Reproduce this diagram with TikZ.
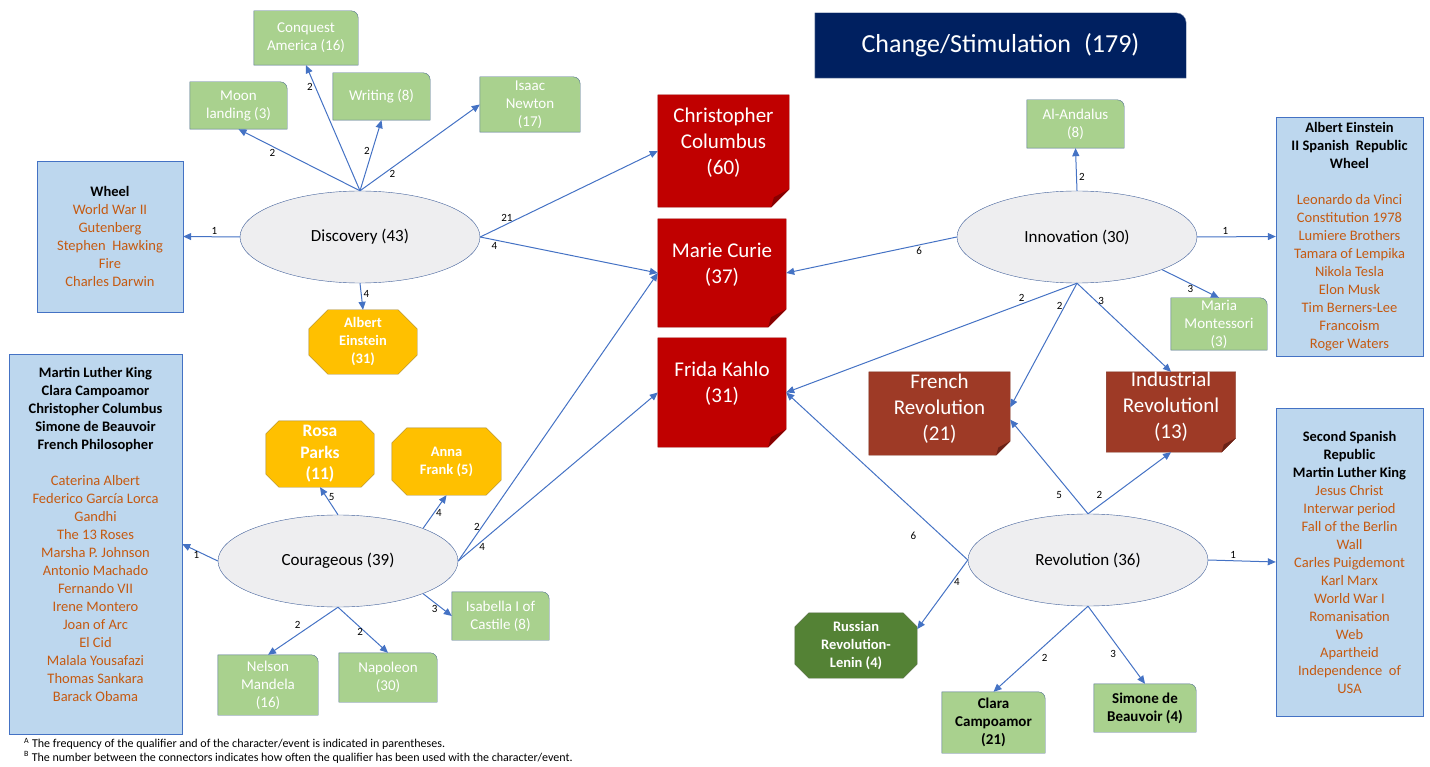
\documentclass[tikz,border=0pt]{standalone}
\usepackage{fontspec}
\setmainfont{Carlito}
\usetikzlibrary{positioning,shapes.geometric,arrows.meta,backgrounds,calc}

\definecolor{linkblue}{HTML}{4472C4}
\definecolor{ovalfill}{HTML}{EEEEF0}
\definecolor{ovaledge}{HTML}{41609A}
\definecolor{listfill}{HTML}{BDD7EE}
\definecolor{listedge}{HTML}{4472C4}
\definecolor{listtext}{HTML}{C55A11}
\definecolor{leaffill}{HTML}{A9D18E}
\definecolor{leafedge}{HTML}{4F6F8F}
\definecolor{charred}{HTML}{C00000}
\definecolor{foldred}{HTML}{860000}
\definecolor{eventbrown}{HTML}{9E3A26}
\definecolor{foldbrown}{HTML}{6A2217}
\definecolor{octyellow}{HTML}{FFC000}
\definecolor{octedge}{HTML}{8C7A45}
\definecolor{octgreen}{HTML}{548235}
\definecolor{titleblue}{HTML}{002060}

\newcommand{\listhead}[1]{{\color{black}\bfseries #1}}

\tikzset{
  qual/.style={ellipse, draw=ovaledge, fill=ovalfill, minimum width=240, minimum height=92,
    inner sep=0pt, font=\fontsize{17}{20}\selectfont},
  namelist/.style={draw=listedge, fill=listfill, text=listtext, align=center, inner sep=0pt,
    font=\fontsize{14.5}{18}\selectfont},
  leaf/.style={align=center, text=white, inner sep=0pt, font=\fontsize{15}{18}\selectfont},
  leafbox/.style={draw=leafedge, fill=leaffill},
  person/.style={align=center, text=white, inner sep=0pt, font=\fontsize{21}{26}\selectfont},
  octa/.style={align=center, text=white, inner sep=0pt, font=\bfseries\fontsize{14.5}{18}\selectfont},
  link/.style={draw=linkblue, line width=1pt, -{Triangle[length=8pt,width=7pt]}},
  num/.style={font=\fontsize{11}{12}\selectfont, inner sep=2pt}
}

\begin{document}
\begin{tikzpicture}[x=1pt,y=-1pt]
\useasboundingbox (0,0) rectangle (1430,767);

\node[text=white, minimum width=371, minimum height=65, inner sep=0pt,
  font=\fontsize{26}{30}\selectfont] (title) at (1000.5,45.5) {Change/Stimulation\enspace(179)};

% qualifiers
\node[qual] (disc) at (360,237) {Discovery (43)};
\node[qual] (cour) at (338,561) {Courageous (39)};
\node[qual] (innov) at (1077,237) {Innovation (30)};
\node[qual] (revol) at (1088,560) {Revolution (36)};

% characters and events in the middle
\node[person, minimum width=131, minimum height=112] (columbus) at (723.5,151) {Christopher\\Columbus\\(60)\\[-6pt]\mbox{}};
\node[person, minimum width=128, minimum height=108] (curie) at (722,273) {Marie Curie\\(37)\\[-6pt]\mbox{}};
\node[person, minimum width=128, minimum height=109] (frida) at (722,392.5) {Frida Kahlo\\(31)\\[-6pt]\mbox{}};
\node[person, minimum width=141, minimum height=83] (frenchrev) at (939.5,413.5) {French\\Revolution\\(21)\\[-13pt]\mbox{}};
\node[person, minimum width=129, minimum height=80] (indusrev) at (1171,412) {Industrial\\Revolutionl\\(13)\\[-13pt]\mbox{}};

% octagons
\node[octa, minimum width=108, minimum height=64] (einstein) at (363,342) {Albert\\Einstein\\(31)};
\node[octa, minimum width=108, minimum height=66, font=\bfseries\fontsize{17.5}{21.5}\selectfont] (rosa) at (320,454) {Rosa\\Parks\\(11)};
\node[octa, minimum width=109, minimum height=67] (anna) at (446.5,461.5) {Anna\\Frank (5)};
\node[octa, minimum width=122, minimum height=65] (lenin) at (856,645.5) {Russian\\Revolution-\\Lenin (4)};

% green boxes
\node[leaf, minimum width=97, minimum height=47] (moon) at (238.5,105.5) {Moon\\landing (3)};
\node[leaf, minimum width=104, minimum height=54] (conquest) at (306,38) {Conquest\\America (16)};
\node[leaf, minimum width=97, minimum height=47] (writing) at (381.5,96.5) {Writing (8)};
\node[leaf, minimum width=100, minimum height=55] (newton) at (530,104.5) {Isaac\\Newton\\(17)};
\node[leaf, minimum width=97, minimum height=48] (andalus) at (1075.5,124) {Al-Andalus\\(8)};
\node[leaf, minimum width=96, minimum height=52] (maria) at (1219,324) {Maria\\Montessori\\(3)};
\node[leaf, minimum width=97, minimum height=48] (isabella) at (500.5,616) {Isabella I of\\Castile (8)};
\node[leaf, minimum width=100, minimum height=60] (mandela) at (268,685) {Nelson\\Mandela\\(16)};
\node[leaf, minimum width=98, minimum height=49] (napoleon) at (388,677.5) {Napoleon\\(30)};
\node[leaf, text=black, font=\bfseries\fontsize{15}{18}\selectfont, minimum width=103, minimum height=61] (clara) at (993.5,722.5) {Clara\\Campoamor\\(21)};
\node[leaf, text=black, font=\bfseries\fontsize{15}{18}\selectfont, minimum width=102, minimum height=48] (simone) at (1145,708) {Simone de\\Beauvoir (4)};

% lists
\node[namelist, minimum width=146, minimum height=151] (wheel) at (110,236.5)
  {\listhead{Wheel}\\World War II\\Gutenberg\\Stephen\ \ Hawking\\Fire\\Charles Darwin};
\node[namelist, minimum width=173, minimum height=380] (brave) at (95.5,544)
  {\listhead{Martin Luther King}\\\listhead{Clara Campoamor}\\\listhead{Christopher Columbus}\\
   \listhead{Simone de Beauvoir}\\\listhead{French Philosopher}\\[18pt]
   Caterina Albert\\Federico García Lorca\\Gandhi\\The 13 Roses\\Marsha P. Johnson\\
   Antonio Machado\\Fernando VII\\Irene Montero\\Joan of Arc\\El Cid\\Malala Yousafazi\\
   Thomas Sankara\\Barack Obama\\[2pt]\mbox{}};
\node[namelist, minimum width=147, minimum height=239] (novel) at (1349.5,236.5)
  {\listhead{Albert Einstein}\\\listhead{II Spanish\ \ Republic}\\\listhead{Wheel}\\[18pt]
   Leonardo da Vinci\\Constitution 1978\\Lumiere Brothers\\Tamara of Lempika\\Nikola Tesla\\
   Elon Musk\\Tim Berners-Lee\\Francoism\\Roger Waters};
\node[namelist, minimum width=147, minimum height=308] (revlist) at (1349.5,562)
  {\listhead{Second Spanish}\\\listhead{Republic}\\\listhead{Martin Luther King}\\
   Jesus Christ\\Interwar period\\Fall of the Berlin\\Wall\\Carles Puigdemont\\Karl Marx\\
   World War I\\Romanisation\\Web\\Apartheid\\Independence\ \ of\\USA};

% box shapes behind the texts
\begin{scope}[on background layer]
  \draw[titleblue!45!white, fill=titleblue] (title.south west) -- (title.north west)
    [rounded corners=10pt] -- (title.north east) [sharp corners] -- (title.south east) -- cycle;
  \foreach \n in {moon,conquest,writing,newton,andalus,maria,isabella,mandela,napoleon,clara,simone}
    \draw[leafbox] (\n.south west) -- (\n.north west)
      [rounded corners=7pt] -- (\n.north east) [sharp corners] -- (\n.south east) -- cycle;
  \foreach \n/\c/\f/\s in {columbus/charred/foldred/18,curie/charred/foldred/18,frida/charred/foldred/18,
      frenchrev/eventbrown/foldbrown/14,indusrev/eventbrown/foldbrown/14} {
    \draw[\c!80!black, fill=\c] (\n.north west) -- (\n.north east) -- ($(\n.south east)+(0,-\s)$)
      -- ($(\n.south east)+(-\s,0)$) -- (\n.south west) -- cycle;
    \fill[\f] ($(\n.south east)+(0,-\s)$) -- ($(\n.south east)+(-\s,0)$)
      -- ($(\n.south east)+(-0.85*\s,-0.55*\s)$) -- cycle;
  }
  \foreach \n/\c/\s in {einstein/octyellow/19,rosa/octyellow/13,anna/octyellow/15,lenin/octgreen/14}
    \draw[\c!55!black!80, fill=\c] ($(\n.north west)+(\s,0)$) -- ($(\n.north east)+(-\s,0)$)
      -- ($(\n.north east)+(0,\s)$) -- ($(\n.south east)+(0,-\s)$) -- ($(\n.south east)+(-\s,0)$)
      -- ($(\n.south west)+(\s,0)$) -- ($(\n.south west)+(0,-\s)$) -- ($(\n.north west)+(0,\s)$) -- cycle;
\end{scope}

% Discovery
\draw[link] (disc.west) -- node[num,pos=.45,above] {1} (wheel.east);
\draw[link] (disc.north) -- node[num,pos=.72,below] {2} (moon.south);
\draw[link] (disc.north) -- node[num,pos=.83,left] {2} (conquest.south);
\draw[link] (disc.north) -- node[num,pos=.57,left] {2} (writing.south);
\draw[link] (disc.north) -- node[num,pos=.27,below] {2} (newton.west);
\draw[link] (disc.south) -- node[num,pos=.4,right] {4} (einstein.north);
\draw[link] (disc.east) -- node[num,pos=.15,above] {21} (columbus.west);
\draw[link] (disc.east) -- node[num,pos=.08,below] {4} (curie.west);

% Courageous
\draw[link] (cour.west) -- node[num,pos=.6,below,inner sep=.5pt] {1} (brave.east);
\draw[link] (cour.north) -- node[num,pos=.65,right] {5} (rosa.south);
\draw[link] (cour.21) -- node[num,pos=.45,right] {4} (anna.south);
\draw[link] (cour.-21) -- node[num,pos=.4,below] {3} (isabella.west);
\draw[link] (cour.south) -- node[num,pos=.5,above left] {2} (mandela.north);
\draw[link] (cour.south) -- node[num,pos=.55,left] {2} (napoleon.north);
\draw[link] (cour.east) -- node[num,pos=.12,left] {2} (curie.west);
\draw[link] (cour.east) -- node[num,pos=.12,below] {4} (frida.west);

% Innovation
\draw[link] (innov.north) -- node[num,pos=.33,right] {2} (andalus.south);
\draw[link] (innov.east) -- node[num,pos=.36,above] {1} (novel.west);
\draw[link] (innov.-21) -- node[num,pos=.5,below,inner sep=1pt] {3} (maria.north);
\draw[link] (innov.west) -- node[num,pos=.22,below] {6} (curie.east);
\draw[link] (innov.south) -- node[num,pos=.19,above] {2} (frida.east);
\draw[link] (innov.south) -- node[num,pos=.18,left] {2} (frenchrev.5);
\draw[link] (innov.south) -- node[num,pos=.2,right] {3} (indusrev.north);

% Revolution
\draw[link] (revol.west) -- node[num,pos=.3,below=20pt] {6} (frida.east);
\draw[link] (revol.north) -- node[num,pos=.2,left=8pt] {5} (frenchrev.-5);
\draw[link] (revol.north) -- node[num,pos=.2,above left] {2} (indusrev.south);
\draw[link] (revol.east) -- node[num,pos=.37,above] {1} (revlist.west);
\draw[link] (revol.west) -- node[num,pos=.32,right] {4} (lenin.15);
\draw[link] (revol.south) -- node[num,pos=.6,right=8pt] {2} (clara.north);
\draw[link] (revol.south) -- node[num,pos=.62,left=5pt] {3} (simone.north);

% notes
\node[anchor=base west, align=left, inner sep=0pt, font=\fontsize{12}{13.5}\selectfont] (notes) at (24,761)
  {\textsuperscript{A} The frequency of the qualifier and of the character/event is indicated in parentheses.\\
   \textsuperscript{B} The number between the connectors indicates how often the qualifier has been used with the character/event.};
\end{tikzpicture}
\end{document}
